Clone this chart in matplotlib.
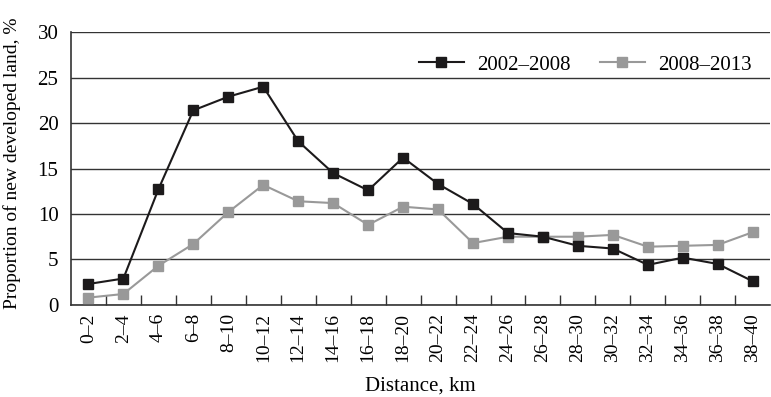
import matplotlib.pyplot as plt
import numpy as np

plt.rcParams["font.family"] = ["Liberation Serif", "DejaVu Serif"]

# distance bands and share of new developed land (%)
distance_bands = ["0–2", "2–4", "4–6", "6–8", "8–10", "10–12", "12–14", "14–16",
                  "16–18", "18–20", "20–22", "22–24", "24–26", "26–28", "28–30",
                  "30–32", "32–34", "34–36", "36–38", "38–40"]
share_2002_2008 = [2.3, 2.9, 12.7, 21.4, 22.9, 24.0, 18.0, 14.5, 12.6, 16.2,
                   13.3, 11.1, 7.9, 7.5, 6.5, 6.2, 4.4, 5.2, 4.5, 2.6]
share_2008_2013 = [0.8, 1.2, 4.3, 6.7, 10.2, 13.2, 11.4, 11.2, 8.8, 10.8,
                   10.5, 6.8, 7.5, 7.5, 7.5, 7.7, 6.4, 6.5, 6.6, 8.0]

x = np.arange(len(distance_bands))

fig = plt.figure(figsize=(7.71, 3.97), dpi=100)
ax = fig.add_axes([0.092, 0.232, 0.907, 0.687])

ax.plot(x, share_2002_2008, color="#1c1a1b", marker="s", markersize=7.5,
        linewidth=1.5, label="2002–2008", zorder=4)
ax.plot(x, share_2008_2013, color="#999999", marker="s", markersize=7.5,
        linewidth=1.5, label="2008–2013", zorder=3)

ax.set_xlim(-0.5, len(distance_bands) - 0.5)
ax.set_ylim(0, 30)
ax.set_yticks(range(0, 31, 5))
ax.yaxis.grid(True, color="#333333", linewidth=1.0)
ax.set_axisbelow(True)

ax.set_xticks(x)
ax.set_xticklabels(distance_bands, rotation=90, fontsize=14)
ax.set_xticks(np.arange(0.5, len(distance_bands) - 0.5, 1), minor=True)
ax.tick_params(axis="x", which="major", length=0, pad=6)
ax.tick_params(axis="x", which="minor", direction="in", length=7, width=1, color="#333333")
ax.tick_params(axis="y", length=0, labelsize=15, pad=9)

for side in ["top", "right"]:
    ax.spines[side].set_visible(False)
for side in ["left", "bottom"]:
    ax.spines[side].set_color("#333333")
    ax.spines[side].set_linewidth(1.2)

ax.set_xlabel("Distance, km", fontsize=15, labelpad=10)
ax.set_ylabel("Proportion of new developed land, %", fontsize=14)
ax.yaxis.set_label_coords(-0.072, 0.52)

ax.legend(loc="upper right", bbox_to_anchor=(1.0, 0.985), ncol=2, frameon=False,
          fontsize=15, handlelength=2.2, columnspacing=1.4, handletextpad=0.6)

fig.savefig("out.png", dpi=100)
